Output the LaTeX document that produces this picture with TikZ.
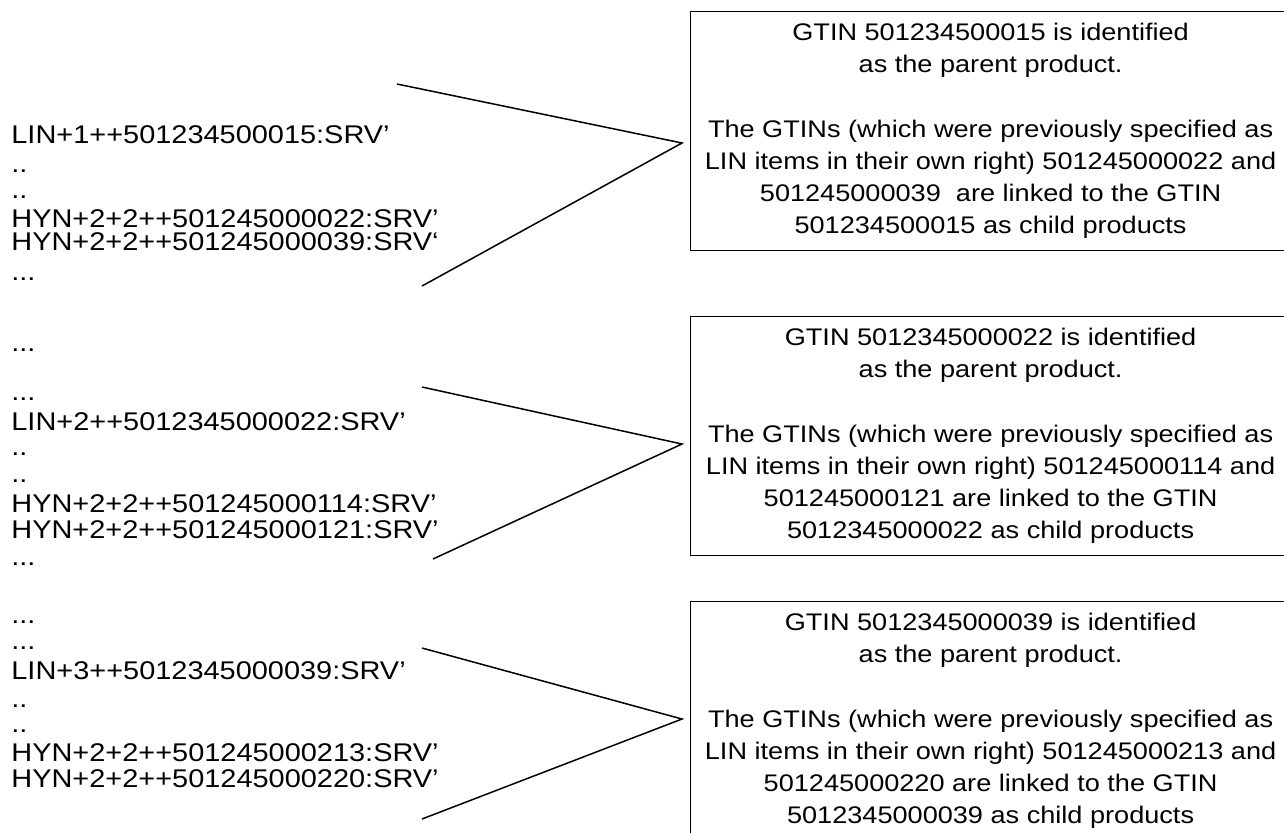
\documentclass[tikz,border=0pt]{standalone}
\usepackage{fontspec}
\setmainfont[FakeStretch=1.13]{Liberation Sans}
\usetikzlibrary{positioning}
\tikzset{>=stealth}
\tikzset{
  seg/.style={anchor=base west, inner sep=0pt, font=\fontsize{12.8}{15}\selectfont},
  note/.style={draw, line width=0.6pt, anchor=north west, minimum width=300pt,
    minimum height=119.5pt, align=center, font=\fontsize{12}{16.1}\selectfont},
  link/.style={line width=0.75pt}
}

\begin{document}
\begin{tikzpicture}[x=0.5pt, y=-0.5pt]
    \useasboundingbox (0,0) rectangle (1284,832);
    \clip (0,0) rectangle (1284,832);
    % message for LIN+1
    \node [seg](A1) at (11,143) {LIN+1++501234500015:SRV’};
    \node [seg](A2) at (11,172) {..};
    \node [seg](A3) at (11,198) {..};
    \node [seg](A4) at (11,227) {HYN+2+2++501245000022:SRV’};
    \node [seg](A5) at (11,250) {HYN+2+2++501245000039:SRV‘};
    \node [seg](A6) at (11,280) {...};
    % message for LIN+2
    \node [seg](B1) at (11,351) {...};
    \node [seg](B2) at (11,400) {...};
    \node [seg](B3) at (11,430) {LIN+2++5012345000022:SRV’};
    \node [seg](B4) at (11,455) {..};
    \node [seg](B5) at (11,482) {..};
    \node [seg](B6) at (11,512) {HYN+2+2++501245000114:SRV’};
    \node [seg](B7) at (11,538) {HYN+2+2++501245000121:SRV’};
    \node [seg](B8) at (11,565) {...};
    % message for LIN+3
    \node [seg](C1) at (11,623) {...};
    \node [seg](C2) at (11,649) {...};
    \node [seg](C3) at (11,679) {LIN+3++5012345000039:SRV’};
    \node [seg](C4) at (11,707) {..};
    \node [seg](C5) at (11,732) {..};
    \node [seg](C6) at (11,761) {HYN+2+2++501245000213:SRV’};
    \node [seg](C7) at (11,787) {HYN+2+2++501245000220:SRV’};
    % explanations
    \node [note](N1) at (690,11) {GTIN 501234500015 is identified\\ as the parent product.\\[16.1pt]
      The GTINs (which were previously specified as\\ LIN items in their own right) 501245000022 and\\
      501245000039~ are linked to the GTIN\\ 501234500015 as child products};
    \node [note](N2) at (690,316) {GTIN 5012345000022 is identified\\ as the parent product.\\[16.1pt]
      The GTINs (which were previously specified as\\ LIN items in their own right) 501245000114 and\\
      501245000121 are linked to the GTIN\\ 5012345000022 as child products};
    \node [note](N3) at (690,601) {GTIN 5012345000039 is identified\\ as the parent product.\\[16.1pt]
      The GTINs (which were previously specified as\\ LIN items in their own right) 501245000213 and\\
      501245000220 are linked to the GTIN\\ 5012345000039 as child products};
    % brackets
    \coordinate (P1) at (397,84);
    \coordinate (T1) at (682,143);
    \coordinate (Q1) at (422,286);
    \coordinate (P2) at (422,387);
    \coordinate (T2) at (682,444);
    \coordinate (Q2) at (433,559);
    \coordinate (P3) at (422,648);
    \coordinate (T3) at (682,719);
    \coordinate (Q3) at (422,819);
    \draw [link] (P1)--(T1)--(Q1) ;
    \draw [link] (P2)--(T2)--(Q2) ;
    \draw [link] (P3)--(T3)--(Q3) ;
\end{tikzpicture}
\end{document}
